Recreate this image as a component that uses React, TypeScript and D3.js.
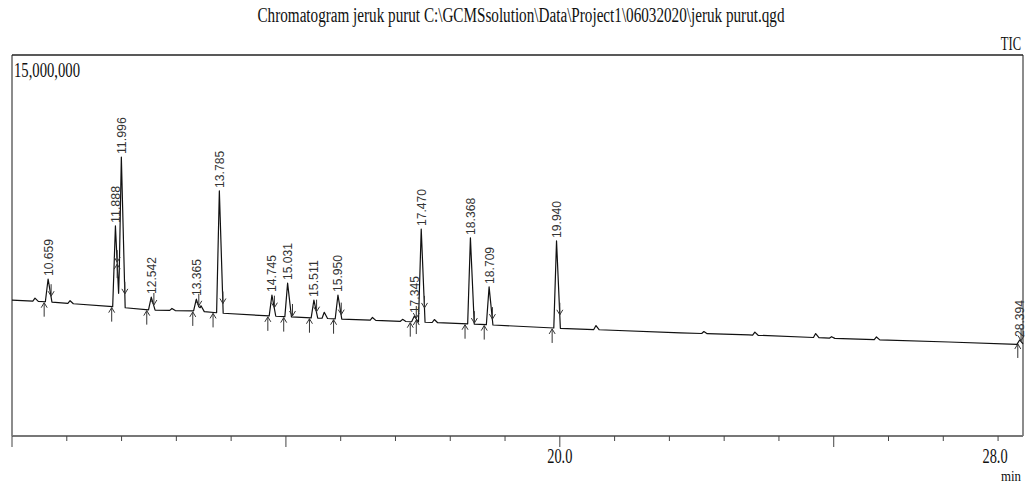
import React from 'react';
import * as d3 from 'd3';

const TITLE = 'Chromatogram jeruk purut C:\\GCMSsolution\\Data\\Project1\\06032020\\jeruk purut.qgd';
const SIGNAL_LABEL = 'TIC';
const Y_FULL_SCALE = 15000000;
const Y_FULL_SCALE_TEXT = '15,000,000';
const X_UNIT = 'min';

// x axis (retention time, min)
const xTicks = [10, 11, 12, 13, 14, 15, 16, 17, 18, 19, 20, 21, 22, 23, 24, 25, 26, 27, 28];
const xMajorTicks = [10, 15, 20, 25];
const xLabelTicks = [20, 28];
const xLabelText = ['20.0', '28.0'];

// baseline of the TIC trace (time, counts)
const baselineTime = [10.0, 10.66, 11.9, 12.54, 13.4, 13.8, 14.75, 15.5, 15.95, 17.4, 18.4, 19.9, 22.2, 23.45, 25.3, 27.1, 28.455];
const baselineValue = [5350000, 5280000, 5080000, 4960000, 4920000, 4840000, 4720000, 4650000, 4610000, 4490000, 4410000, 4250000, 4060000, 3980000, 3820000, 3700000, 3600000];

// labelled peaks
const peakLabels = ['10.659', '11.888', '11.996', '12.542', '13.365', '13.785', '14.745', '15.031', '15.511', '15.950', '17.345', '17.470', '18.368', '18.709', '19.940', '28.394'];
const peakTime = [10.659, 11.888, 11.996, 12.542, 13.365, 13.785, 14.745, 15.031, 15.511, 15.95, 17.345, 17.47, 18.368, 18.709, 19.94, 28.394];
const peakApex = [6180000, 8270000, 10980000, 5470000, 5390000, 9650000, 5550000, 6020000, 5350000, 5550000, 4720000, 8150000, 7800000, 5870000, 7680000, 3780000];
const peakStart = [10.587, 11.82, 11.92, 12.46, 13.3, 13.67, 14.67, 14.96, 15.43, 15.87, 17.27, 17.38, 18.27, 18.62, 19.86, 28.36];
const peakEnd = [10.714, 11.92, 12.06, 12.59, 13.41, 13.85, 14.79, 15.12, 15.56, 16.01, 17.38, 17.53, 18.44, 18.77, 20.0, 28.42];

// small unlabelled bumps (time, height above baseline)
const bumpTime = [10.42, 11.06, 12.92, 13.45, 15.7, 16.58, 17.13, 17.71, 20.66, 22.63, 23.56, 24.67, 24.96, 25.78];
const bumpHeight = [120000, 110000, 80000, 220000, 240000, 110000, 80000, 120000, 160000, 80000, 120000, 160000, 60000, 110000];

const W = 1026;
const H = 484;
const L = 12, R = 1023, T = 55, B = 436;
const serif = "'Liberation Serif', 'Times New Roman', serif";
const sans = "'Liberation Sans', Arial, sans-serif";

export default function App() {
  const x = d3.scaleLinear().domain([10, 28.455]).range([L, R]);
  const y = d3.scaleLinear().domain([0, Y_FULL_SCALE]).range([B, T]);
  const baseline = d3.scaleLinear().domain(baselineTime).range(baselineValue).clamp(true);

  const leftHalf = 0.05;
  const rightHalf = 0.07;
  const peakHeight = peakApex.map((a, i) => a - baseline(peakTime[i]));

  const tri = (t: number, c: number, h: number, l: number, r: number) => {
    if (t <= c) return Math.max(0, 1 - (c - t) / l) * h;
    return Math.max(0, 1 - (t - c) / r) * h;
  };
  const signal = (t: number) => {
    let v = baseline(t);
    peakTime.forEach((c, i) => { v += tri(t, c, peakHeight[i], leftHalf, rightHalf); });
    bumpTime.forEach((c, i) => { v += tri(t, c, bumpHeight[i], 0.04, 0.06); });
    return v;
  };

  const knotSet = new Set<number>();
  baselineTime.forEach((t) => knotSet.add(t));
  peakTime.forEach((c) => { knotSet.add(c - leftHalf); knotSet.add(c); knotSet.add(c + rightHalf); });
  bumpTime.forEach((c) => { knotSet.add(c - 0.04); knotSet.add(c); knotSet.add(c + 0.06); });
  const knots = Array.from(knotSet).filter((t) => t >= 10 && t <= 28.455).sort((a, b) => a - b);
  const trace: [number, number][] = knots.map((t) => [t, signal(t)]);

  const line = d3.line<[number, number]>().x((d) => x(d[0])).y((d) => y(d[1]));

  return (
    <svg width={W} height={H} style={{ position: 'absolute', left: 0, top: 0, background: '#fff' }}>
      <rect x={0} y={0} width={W} height={H} fill="#fff" />
      {/* title */}
      <text x={521} y={22} fontFamily={serif} fontSize={20} textAnchor="middle" textLength={527} lengthAdjust="spacingAndGlyphs" fill="#111">{TITLE}</text>
      <text transform="translate(1021,50) scale(0.66,1)" fontFamily={serif} fontSize={19} textAnchor="end" fill="#111">{SIGNAL_LABEL}</text>

      {/* frame */}
      <line x1={L} x2={L} y1={T} y2={B} stroke="#666" strokeWidth={1.5} />
      <line x1={R} x2={R} y1={T} y2={B} stroke="#666" strokeWidth={1.5} />
      <line x1={L} x2={R} y1={T} y2={T} stroke="#222" strokeWidth={1.6} />
      <line x1={L} x2={R} y1={B} y2={B} stroke="#777" strokeWidth={2} />

      <text x={14} y={77} fontFamily={serif} fontSize={20} textLength={66} lengthAdjust="spacingAndGlyphs" fill="#111">{Y_FULL_SCALE_TEXT}</text>

      {/* x ticks */}
      {xTicks.map((t) => (
        <line key={t} x1={x(t)} x2={x(t)} y1={B} y2={B + (xMajorTicks.includes(t) ? 11 : 5)} stroke="#444" strokeWidth={1} />
      ))}
      {xLabelTicks.map((t, i) => (
        <text key={t} transform={`translate(${x(t) - (t === 28 ? 3 : 0)},463) scale(0.72,1)`} fontFamily={serif} fontSize={20} textAnchor="middle" fill="#111">{xLabelText[i]}</text>
      ))}
      <text transform="translate(1021,481) scale(0.92,1)" fontFamily={serif} fontSize={14} textAnchor="end" fill="#111">{X_UNIT}</text>

      {/* trace */}
      <path d={line(trace) || ''} fill="none" stroke="#111" strokeWidth={1.2} strokeLinejoin="round" />

      {/* peak start/end markers */}
      {peakStart.map((t, i) => {
        const px = x(t), py = y(signal(t));
        return (
          <g key={'s' + i} stroke="#333" strokeWidth={1} fill="none">
            <line x1={px} x2={px} y1={py + 15} y2={py + 1} />
            <path d={`M${px - 3},${py + 6}L${px},${py + 1}L${px + 3},${py + 6}`} />
          </g>
        );
      })}
      {peakEnd.map((t, i) => {
        const px = x(t), py = y(signal(t));
        return (
          <g key={'e' + i} stroke="#333" strokeWidth={1} fill="none">
            <line x1={px} x2={px} y1={py - 13} y2={py - 1} />
            <path d={`M${px - 3},${py - 6}L${px},${py - 1}L${px + 3},${py - 6}`} />
          </g>
        );
      })}

      {/* peak labels */}
      {peakLabels.map((lab, i) => {
        const px = x(peakTime[i]) + 4.5;
        const py = y(peakApex[i]) - 3;
        return (
          <text key={lab} transform={`translate(${px},${py}) rotate(-90)`} fontFamily={sans} fontSize={13} textLength={37} lengthAdjust="spacingAndGlyphs" fill="#333">{lab}</text>
        );
      })}
    </svg>
  );
}
